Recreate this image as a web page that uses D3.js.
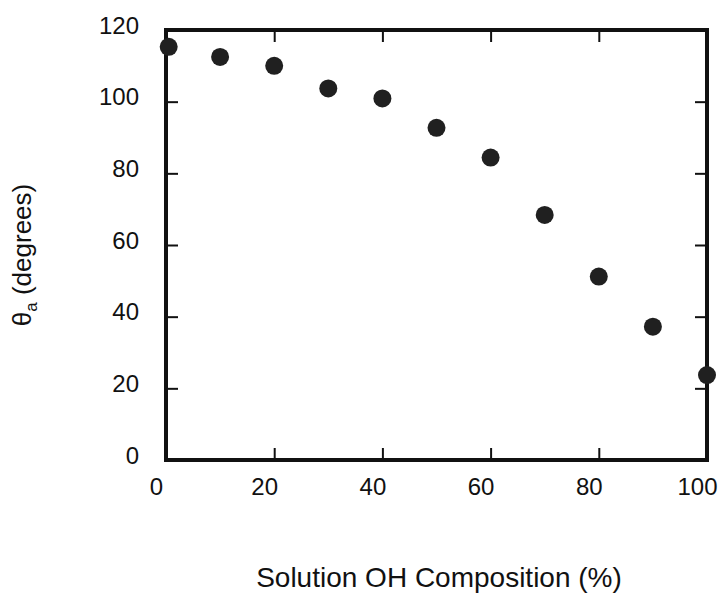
<!DOCTYPE html>
<html>
<head>
<meta charset="utf-8">
<script src="https://cdn.jsdelivr.net/npm/d3@7"></script>
<style>
  html, body { margin: 0; padding: 0; background: #fff; }
  svg { display: block; }
  text { font-family: "Liberation Sans", Arial, Helvetica, sans-serif; fill: #111; }
</style>
</head>
<body>
<svg id="chart" width="724" height="595"></svg>
<script>
// Advancing contact angle vs. solution OH composition
const composition = [0.5, 10, 20, 30, 40, 50, 60, 70, 80, 90, 100];
const contactAngle = [115.3, 112.5, 110.0, 103.7, 100.9, 92.7, 84.4, 68.4, 51.2, 37.2, 23.7];
const xTickValues = [0, 20, 40, 60, 80, 100];
const yTickValues = [0, 20, 40, 60, 80, 100, 120];

const svg = d3.select("#chart");
const plotLeft = 166, plotRight = 707, plotTop = 30, plotBottom = 460;

const x = d3.scaleLinear().domain([0, 100]).range([plotLeft, plotRight]);
const y = d3.scaleLinear().domain([0, 120]).range([plotBottom, plotTop]);

svg.append("rect").attr("width", 724).attr("height", 595).attr("fill", "#fff");

// inward ticks on all four sides
function styleAxis(g) {
  g.select(".domain").remove();
  g.selectAll(".tick line").attr("stroke", "#111").attr("stroke-width", 2);
}

const bottomAxis = svg.append("g")
  .attr("transform", `translate(0,${plotBottom})`)
  .call(d3.axisBottom(x).tickValues(xTickValues).tickSize(-12).tickFormat(d3.format("d")))
  .call(styleAxis);
bottomAxis.selectAll(".tick text")
  .attr("font-size", 24)
  .attr("y", 35).attr("dy", null).attr("dx", -10)
  .attr("text-anchor", "middle");

const leftAxis = svg.append("g")
  .attr("transform", `translate(${plotLeft},0)`)
  .call(d3.axisLeft(y).tickValues(yTickValues).tickSize(-12).tickFormat(d3.format("d")))
  .call(styleAxis);
leftAxis.selectAll(".tick text")
  .attr("font-size", 24)
  .attr("x", -27).attr("dy", 3)
  .attr("text-anchor", "end");

svg.append("g")
  .attr("transform", `translate(0,${plotTop})`)
  .call(d3.axisTop(x).tickValues(xTickValues).tickSize(-12).tickFormat(""))
  .call(styleAxis);

svg.append("g")
  .attr("transform", `translate(${plotRight},0)`)
  .call(d3.axisRight(y).tickValues(yTickValues).tickSize(-12).tickFormat(""))
  .call(styleAxis);

// plot frame
svg.append("rect")
  .attr("x", x(0)).attr("y", y(120))
  .attr("width", x(100) - x(0)).attr("height", y(0) - y(120))
  .attr("fill", "none").attr("stroke", "#111").attr("stroke-width", 4);

// data points
svg.append("g").selectAll("circle")
  .data(composition.map((c, i) => ({ c, a: contactAngle[i] })))
  .join("circle")
  .attr("cx", d => x(d.c))
  .attr("cy", d => y(d.a))
  .attr("r", 9)
  .attr("fill", "#202020");

// axis titles
svg.append("text")
  .attr("x", 439).attr("y", 587)
  .attr("text-anchor", "middle")
  .attr("font-size", 28)
  .text("Solution OH Composition (%)");

const yTitle = svg.append("text")
  .attr("transform", "translate(31,255) rotate(-90)")
  .attr("text-anchor", "middle")
  .attr("font-size", 26);
yTitle.append("tspan").text("θ");
yTitle.append("tspan").attr("font-size", 17).attr("dy", 6).text("a");
yTitle.append("tspan").attr("dy", -6).text(" (degrees)");
</script>
</body>
</html>
